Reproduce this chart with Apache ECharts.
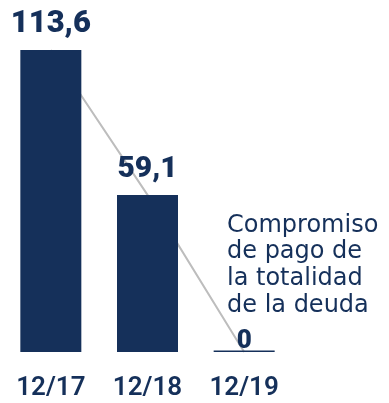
<!DOCTYPE html>
<html>
<head>
<meta charset="utf-8">
<script src="https://cdn.jsdelivr.net/npm/echarts@6/dist/echarts.min.js"></script>
<style>
  html, body { margin: 0; padding: 0; background: #fff; }
  #chart { width: 389px; height: 403px; }
</style>
</head>
<body>
<div id="chart"></div>
<script>
// Deuda por fecha de cierre
const categories = ['12/17', '12/18', '12/19'];
const values = [113.6, 59.1, 0];
const valueLabels = ['113,6', '59,1', '0'];
const noteLines = ['Compromiso', 'de pago de', 'la totalidad', 'de la deuda'];

const NAVY = '#15305a';
const labelSizes = [31, 30, 26];

const chart = echarts.init(document.getElementById('chart'), null, { renderer: 'canvas' });

chart.setOption({
  animation: false,
  grid: { left: 2.5, width: 290, top: 50, bottom: 51, containLabel: false },
  xAxis: {
    type: 'category',
    data: categories,
    axisLine: { show: false },
    axisTick: { show: false },
    axisLabel: {
      color: NAVY,
      fontFamily: 'Roboto',
      fontWeight: 600,
      fontSize: 26,
      margin: 23
    }
  },
  yAxis: {
    type: 'value',
    min: 0,
    max: 113.6,
    show: false,
    splitLine: { show: false }
  },
  series: [
    {
      type: 'line',
      data: values,
      symbol: 'none',
      z: 1,
      lineStyle: { color: '#bdbdbd', width: 2 }
    },
    {
      type: 'bar',
      z: 2,
      barWidth: 61,
      barMinHeight: 1.5,
      itemStyle: { color: NAVY },
      data: values.map((v, i) => ({
        value: v,
        label: {
          show: true,
          position: 'top',
          distance: i === 2 ? -4 : 10,
          formatter: () => valueLabels[i],
          color: NAVY,
          fontFamily: 'Roboto',
          fontWeight: 900,
          fontSize: labelSizes[i]
        }
      }))
    }
  ],
  graphic: [
    {
      type: 'text',
      left: 227,
      top: 212,
      z: 10,
      style: {
        text: noteLines.join('\n'),
        fill: NAVY,
        font: '24px "DejaVu Sans"',
        lineHeight: 26.7
      }
    }
  ]
});
</script>
</body>
</html>
